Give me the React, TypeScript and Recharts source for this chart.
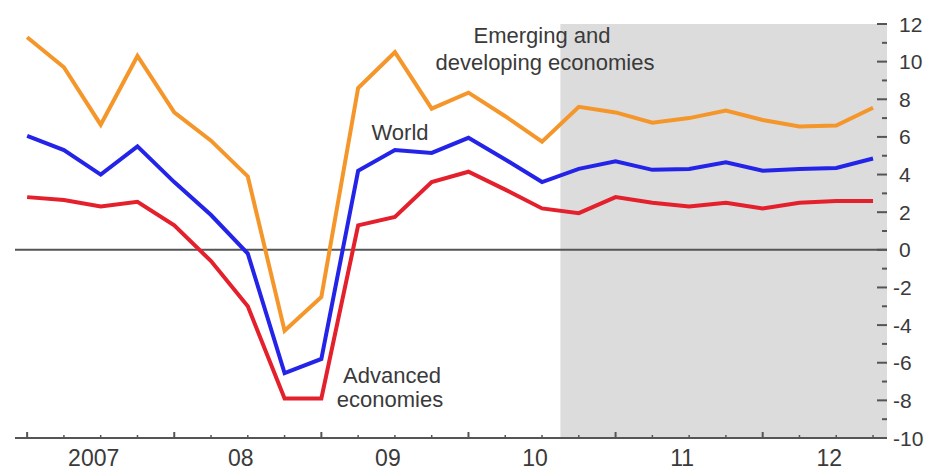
import React from 'react';
import { LineChart, Line, XAxis, YAxis, ReferenceArea, ReferenceLine } from 'recharts';

const quarterIndex = [0, 1, 2, 3, 4, 5, 6, 7, 8, 9, 10, 11, 12, 13, 14, 15, 16, 17, 18, 19, 20, 21, 22, 23];
const yearLabels = ['2007', '08', '09', '10', '11', '12'];
const emerging = [11.3, 9.7, 6.65, 10.3, 7.3, 5.8, 3.9, -4.3, -2.5, 8.6, 10.5, 7.5, 8.35, 7.1, 5.75, 7.6, 7.3, 6.75, 7.0, 7.4, 6.9, 6.55, 6.6, 7.55];
const world = [6.05, 5.3, 4.0, 5.5, 3.6, 1.85, -0.2, -6.55, -5.8, 4.2, 5.3, 5.15, 5.95, 4.8, 3.6, 4.3, 4.7, 4.25, 4.3, 4.65, 4.2, 4.3, 4.35, 4.85];
const advanced = [2.8, 2.65, 2.3, 2.55, 1.3, -0.6, -3.0, -7.9, -7.9, 1.3, 1.75, 3.6, 4.15, 3.2, 2.2, 1.95, 2.8, 2.5, 2.3, 2.5, 2.2, 2.5, 2.6, 2.6];
const yTicks = [-10, -9, -8, -7, -6, -5, -4, -3, -2, -1, 0, 1, 2, 3, 4, 5, 6, 7, 8, 9, 10, 11, 12];
const projectionStart = 14.5;

const data = quarterIndex.map((q, i) => ({ q, emerging: emerging[i], world: world[i], advanced: advanced[i] }));

const W = 931;
const H = 472;
const X_DOMAIN: [number, number] = [-0.33, 23.38];
const sans = "'Liberation Sans', Arial, sans-serif";
const textColor = '#3a3a3a';

const XTick = (props: any) => {
  const { x, y, payload } = props;
  const i = payload.value as number;
  const major = i % 4 === 0;
  return (
    <g>
      <line x1={x} x2={x} y1={y} y2={y - (major ? 6 : 3)} stroke="#555" strokeWidth={major ? 2 : 1.5} />
      {i % 4 === 2 && (
        <text x={x - 7} y={y + 28} textAnchor="middle" fontFamily={sans} fontSize={23} fill={textColor}>
          {yearLabels[(i - 2) / 4]}
        </text>
      )}
    </g>
  );
};

const RightTick = (props: any) => {
  const { x, y, payload } = props;
  const v = payload.value as number;
  const even = v % 2 === 0;
  return (
    <g>
      <line x1={x - (even ? 10 : 5)} x2={x} y1={y} y2={y} stroke="#555" strokeWidth={2} />
      {even && (
        <text x={v < 0 ? x + 6 : x + 12} y={y} dy="0.36em" textAnchor="start" fontFamily={sans} fontSize={21} fill={textColor}>
          {v < 0 ? '-' + Math.abs(v) : String(v)}
        </text>
      )}
    </g>
  );
};

const LeftTick = (props: any) => {
  const { x, y, payload } = props;
  const v = payload.value as number;
  const even = v % 2 === 0;
  return <line x1={x} x2={x + (even ? 10 : 6)} y1={y} y2={y} stroke="#777" strokeWidth={2} />;
};

export default function App() {
  return (
    <div style={{ position: 'absolute', left: 0, top: 0, width: W, height: H, background: '#fff' }}>
      <LineChart width={W} height={H} data={data} margin={{ top: 24, right: 0, bottom: 0, left: 0 }}>
        <XAxis
          dataKey="q"
          type="number"
          domain={X_DOMAIN}
          allowDataOverflow
          ticks={quarterIndex}
          interval={0}
          height={34}
          tickSize={0}
          tickMargin={0}
          tickLine={false}
          axisLine={{ stroke: '#555', strokeWidth: 2 }}
          tick={<XTick />}
        />
        <YAxis
          yAxisId="left"
          orientation="left"
          width={15}
          domain={[-10, 12]}
          ticks={yTicks}
          interval={0}
          tickSize={0}
          tickMargin={0}
          tickLine={false}
          axisLine={false}
          tick={<LeftTick />}
        />
        <YAxis
          yAxisId="right"
          orientation="right"
          width={44}
          domain={[-10, 12]}
          ticks={yTicks}
          interval={0}
          tickSize={0}
          tickMargin={0}
          tickLine={false}
          axisLine={false}
          tick={<RightTick />}
        />
        <ReferenceArea
          yAxisId="right"
          x1={projectionStart}
          x2={X_DOMAIN[1]}
          y1={-10}
          y2={12}
          fill="#dcdcdc"
          fillOpacity={1}
          stroke="none"
          ifOverflow="visible"
        />
        <ReferenceLine yAxisId="right" y={0} stroke="#555" strokeWidth={2} />
        <Line yAxisId="right" type="linear" dataKey="emerging" stroke="#F5962A" strokeWidth={4} dot={false} isAnimationActive={false} />
        <Line yAxisId="right" type="linear" dataKey="world" stroke="#2424E8" strokeWidth={4} dot={false} isAnimationActive={false} />
        <Line yAxisId="right" type="linear" dataKey="advanced" stroke="#E3202B" strokeWidth={4} dot={false} isAnimationActive={false} />
      </LineChart>
      <svg width={W} height={H} style={{ position: 'absolute', left: 0, top: 0, pointerEvents: 'none' }}>
        <g fontFamily={sans} fontSize={22} fill={textColor} textAnchor="middle">
          <text x={542} y={43}>Emerging and</text>
          <text x={545} y={70}>developing economies</text>
          <text x={400} y={140}>World</text>
          <text x={392} y={383}>Advanced</text>
          <text x={390} y={407}>economies</text>
        </g>
      </svg>
    </div>
  );
}
